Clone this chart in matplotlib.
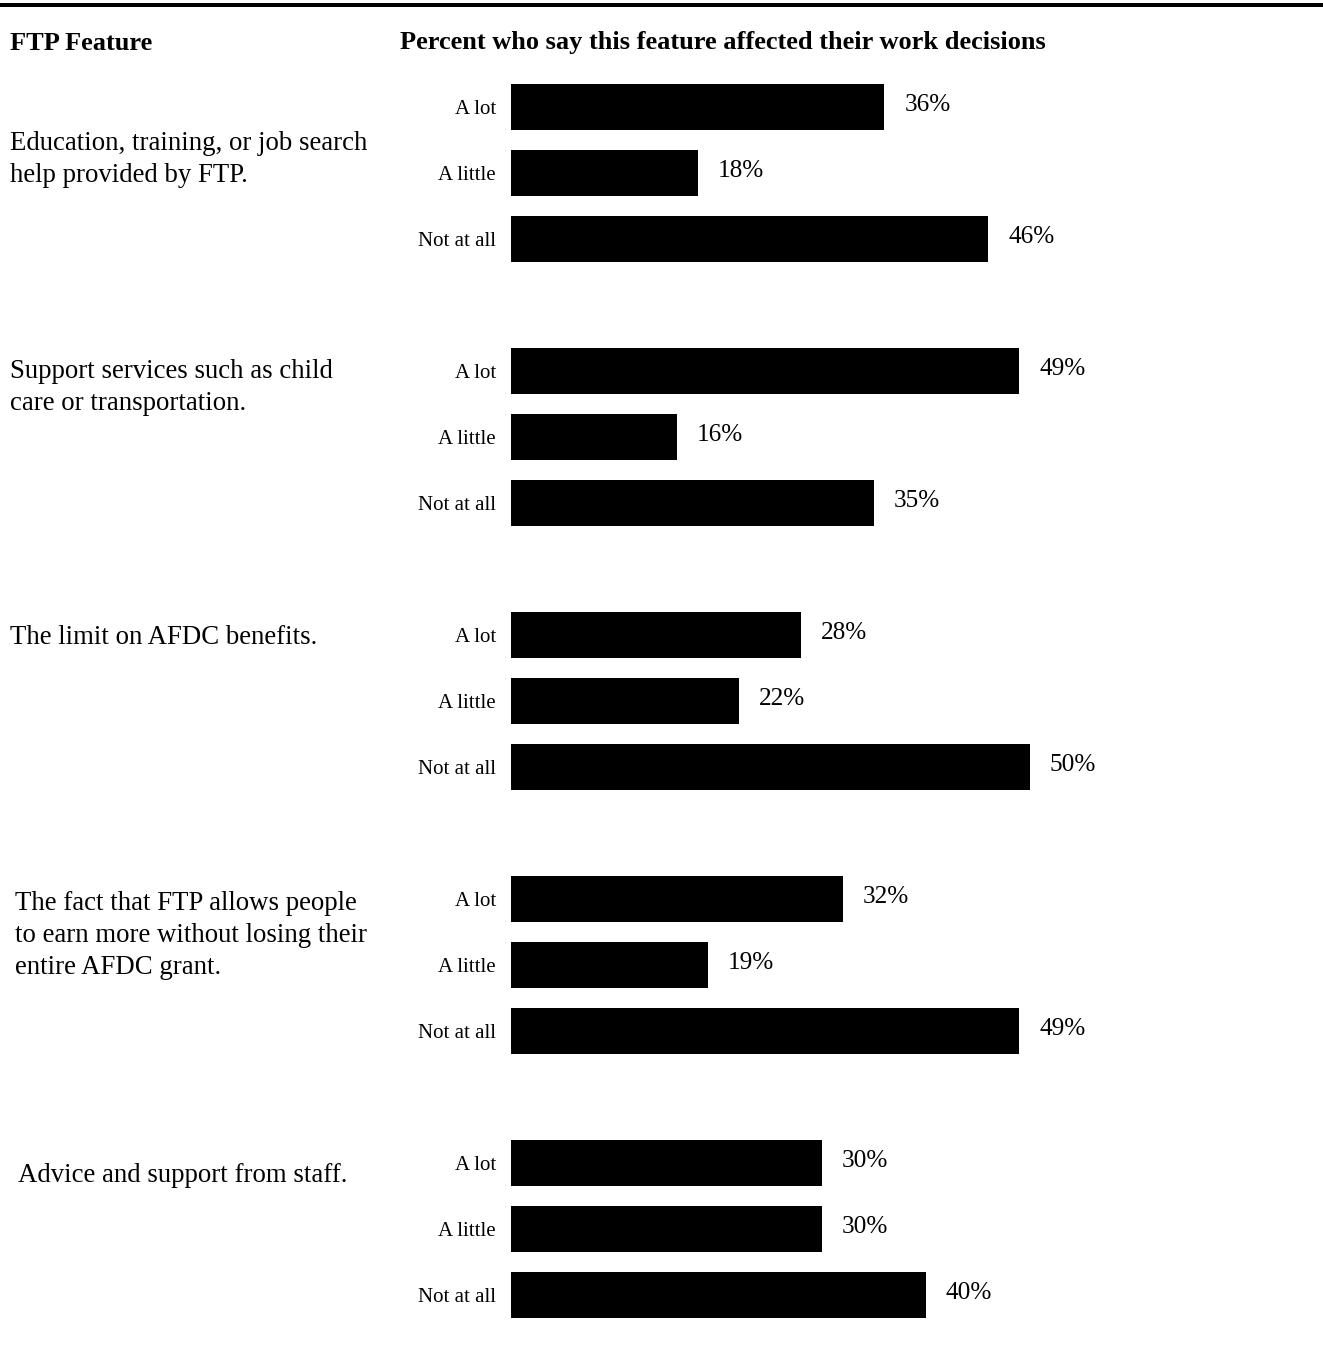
import matplotlib
matplotlib.use("Agg")
import matplotlib.pyplot as plt

# Data
features = [
    "Education, training, or job search\nhelp provided by FTP.",
    "Support services such as child\ncare or transportation.",
    "The limit on AFDC benefits.",
    "The fact that FTP allows people\nto earn more without losing their\nentire AFDC grant.",
    "Advice and support from staff.",
]
responses = ["A lot", "A little", "Not at all"]
a_lot = [36, 49, 28, 32, 30]
a_little = [18, 16, 22, 19, 30]
not_at_all = [46, 35, 50, 49, 40]

# Layout (pixels on a 1323 x 1353 canvas)
W, H = 1323, 1353
bar_left_px = 511
px_per_pct = 10.37
first_center_px = 107
slot_px = 66
bar_h_px = 46
feature_y = [143, 371, 637, 903, 1176]
feature_x = [10, 10, 10, 15, 18]
line_px = 32

plt.rcParams['font.family'] = ['Liberation Serif', 'DejaVu Serif']

fig = plt.figure(figsize=(W / 100, H / 100), dpi=100)

# Background axes in pixel coordinates for the text layout
bg = fig.add_axes([0, 0, 1, 1])
bg.set_xlim(0, W)
bg.set_ylim(H, 0)
bg.axis('off')
bg.plot([0, W], [5, 5], color='black', linewidth=4 * 72 / 100, solid_capstyle='butt')
bg.text(10, 43, "FTP Feature", fontsize=19, fontweight='bold', ha='left', va='center')
bg.text(400, 43, "Percent who say this feature affected their work decisions",
        fontsize=19, fontweight='bold', ha='left', va='center')
for txt, x, y in zip(features, feature_x, feature_y):
    for k, line in enumerate(txt.split("\n")):
        bg.text(x, y + k * line_px, line, fontsize=19.3, ha='left', va='center')

# Bar axes
ax = fig.add_axes([bar_left_px / W, 0, 1 - bar_left_px / W, 1])
ax.set_xlim(0, (W - bar_left_px) / px_per_pct)
top_slot = -first_center_px / slot_px
bot_slot = (H - first_center_px) / slot_px
ax.set_ylim(bot_slot, top_slot)
ax.axis('off')

height = bar_h_px / slot_px
for g in range(len(features)):
    vals = [a_lot[g], a_little[g], not_at_all[g]]
    for i, (lab, v) in enumerate(zip(responses, vals)):
        slot = g * 4 + i
        ax.barh(slot, v, height=height, color='black', edgecolor='none')
        ax.annotate(lab, xy=(0, slot), xytext=(-15, -2), textcoords='offset pixels',
                    ha='right', va='center', fontsize=15, annotation_clip=False)
        ax.annotate(f"{v}%", xy=(v, slot), xytext=(20, 2), textcoords='offset pixels',
                    ha='left', va='center', fontsize=18.2, annotation_clip=False)

fig.savefig("out.png", dpi=100)
